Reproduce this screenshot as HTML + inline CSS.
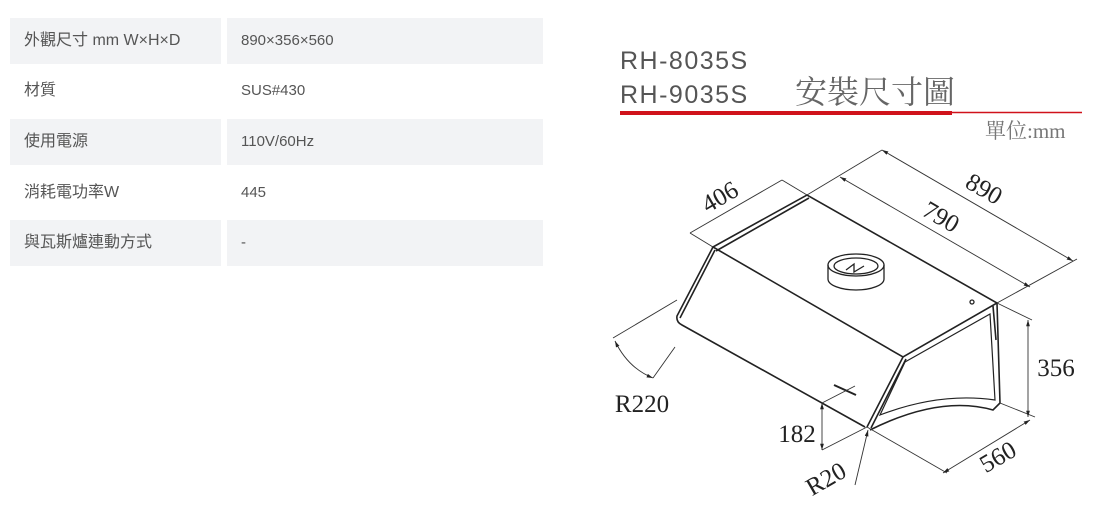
<!DOCTYPE html>
<html><head><meta charset="utf-8"><style>
body{margin:0;width:1093px;height:507px;background:#fff;position:relative;overflow:hidden;font-family:"Liberation Sans","Noto Sans CJK TC",sans-serif}
.c{position:absolute;background:#f2f3f5;color:#555;font-size:15px;line-height:46px;padding-left:14px;box-sizing:border-box}
.l{font-size:16px}
.w{background:#fff}
</style></head><body>
<div class="c l" style="left:10px;top:18px;width:211px;height:46px">外觀尺寸 mm W×H×D</div>
<div class="c" style="left:227px;top:18px;width:316px;height:46px">890×356×560</div>
<div class="c l w" style="left:10px;top:68px;width:211px;height:46px">材質</div>
<div class="c w" style="left:227px;top:68px;width:316px;height:46px">SUS#430</div>
<div class="c l" style="left:10px;top:119px;width:211px;height:46px">使用電源</div>
<div class="c" style="left:227px;top:119px;width:316px;height:46px">110V/60Hz</div>
<div class="c l w" style="left:10px;top:170px;width:211px;height:46px">消耗電功率W</div>
<div class="c w" style="left:227px;top:170px;width:316px;height:46px">445</div>
<div class="c l" style="left:10px;top:220px;width:211px;height:46px">與瓦斯爐連動方式</div>
<div class="c" style="left:227px;top:220px;width:316px;height:46px">-</div>
<svg width="1093" height="507" style="position:absolute;left:0;top:0">
<defs><marker id="a" viewBox="0 0 10 10" refX="10" refY="5" markerWidth="7" markerHeight="7" orient="auto-start-reverse"><path d="M0,2L10,5L0,8z" fill="#222"/></marker></defs>
<g font-family="Liberation Sans, sans-serif" fill="#555" font-size="25" letter-spacing="1.5">
<text x="620" y="69">RH-8035S</text><text x="620" y="103">RH-9035S</text></g>
<text x="795" y="103" font-family="Noto Serif CJK SC, serif" font-size="32" fill="#666">安裝尺寸圖</text>
<line x1="620" y1="113" x2="952" y2="113" stroke="#d0121b" stroke-width="4"/>
<line x1="952" y1="112.5" x2="1082" y2="112.5" stroke="#d0121b" stroke-width="1.5"/>
<text x="985" y="138" font-family="Liberation Serif, Noto Serif CJK SC, serif" font-size="21" fill="#777">單位:mm</text>
<g stroke="#222" fill="none" stroke-width="1.6">
<path d="M713,247L807,195L997,303L903,357Z"/>
<path d="M713,247L677,316Q676,322 682,325L865,427"/>
<path d="M715,250L680,318M809,198L716,251"/>
<path d="M903,357L867,427M906,359L871,428"/>
<path d="M997,303L1000,403L993,410Q940,395 870,430"/>
<path d="M905,362L990,314L995,400Q940,392 880,415Z" stroke-width="1.2"/>
<path d="M993,306L996,340"/>
</g>
<g stroke="#222" fill="none" stroke-width="1.3">
<ellipse cx="856" cy="265" rx="28" ry="11"/>
<path d="M828,265v14a28,11 0 0 0 56,0v-14"/>
<ellipse cx="856" cy="266" rx="22" ry="8"/>
<path d="M846,270l8,-6l0,8l10,-6"/>
<circle cx="972" cy="302" r="2"/>
<path d="M834,385l22,10" stroke-width="2"/>
</g>
<g stroke="#333" fill="none" stroke-width="0.9">
<line x1="807" y1="195" x2="882" y2="150"/><line x1="997" y1="303" x2="1077" y2="259"/>
<line x1="882" y1="150" x2="1073" y2="261" marker-start="url(#a)" marker-end="url(#a)"/>
<line x1="840" y1="177" x2="1030" y2="287" marker-start="url(#a)" marker-end="url(#a)"/>
<line x1="690" y1="233" x2="782" y2="180"/><line x1="690" y1="233" x2="713" y2="247"/><line x1="782" y1="180" x2="807" y2="195"/>
<line x1="997" y1="303" x2="1032" y2="320"/><line x1="1000" y1="403" x2="1035" y2="417"/>
<line x1="1028" y1="320" x2="1028" y2="417" marker-start="url(#a)" marker-end="url(#a)"/>
<line x1="867" y1="427" x2="947" y2="473"/>
<line x1="943" y1="473" x2="1030" y2="420" marker-start="url(#a)" marker-end="url(#a)"/>
<line x1="822" y1="403" x2="855" y2="386"/><line x1="822" y1="450" x2="867" y2="427"/>
<line x1="822" y1="403" x2="822" y2="450" marker-start="url(#a)" marker-end="url(#a)"/>
<line x1="613" y1="338" x2="677" y2="300"/><line x1="653" y1="378" x2="675" y2="347"/>
<path d="M615,341Q628,368 653,378" marker-start="url(#a)" marker-end="url(#a)"/>
<line x1="855" y1="485" x2="868" y2="430" marker-end="url(#a)"/>
</g>
<g font-family="Liberation Serif, serif" font-size="25" fill="#222" text-anchor="middle">
<text transform="translate(724,204) rotate(-30)">406</text>
<text transform="translate(980,196) rotate(30)">890</text>
<text transform="translate(937,224) rotate(30)">790</text>
<text x="1056" y="376">356</text>
<text x="642" y="412">R220</text>
<text x="797" y="442">182</text>
<text transform="translate(830,486) rotate(-30)">R20</text>
<text transform="translate(1002,464) rotate(-30)">560</text>
</g>
</svg>
</body></html>
